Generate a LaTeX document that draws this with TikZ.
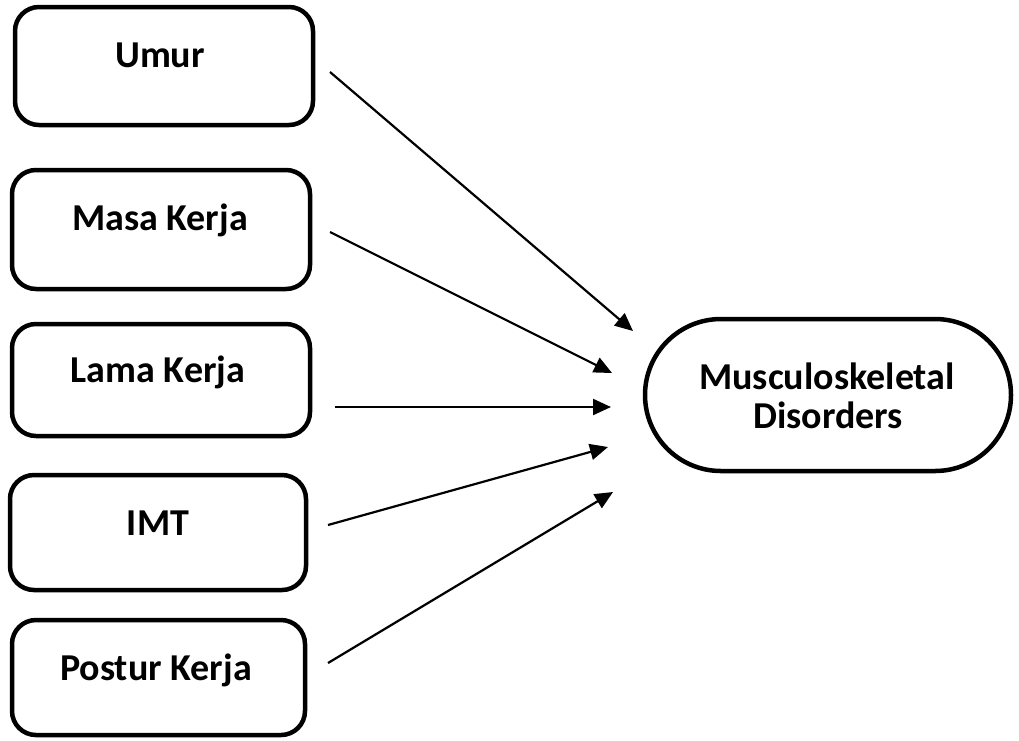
\documentclass[tikz,border=0pt]{standalone}
\usepackage{fontspec}
\setmainfont{Carlito}
\usetikzlibrary{arrows.meta}
\tikzset{
  boxshape/.style={draw, line width=4.5pt, rounded corners=24pt, inner sep=0pt},
  txt/.style={anchor=base, inner sep=0pt, font=\fontsize{38}{40}\selectfont\bfseries},
  arr/.style={line width=2.2pt, -{Triangle[length=18pt,width=16pt]}}
}
\begin{document}
\begin{tikzpicture}[x=1pt,y=-1pt]
\useasboundingbox (0,0) rectangle (1019,740);
% boxes
\node[boxshape, minimum width=298pt, minimum height=118pt] (b1) at (164,66) {};
\node[boxshape, minimum width=298pt, minimum height=119pt] (b2) at (161,229.5) {};
\node[boxshape, minimum width=298pt, minimum height=112pt] (b3) at (161,380) {};
\node[boxshape, minimum width=296pt, minimum height=115pt] (b4) at (158,532.5) {};
\node[boxshape, minimum width=293pt, minimum height=115pt] (b5) at (158.5,677.5) {};
% outcome
\node[draw, line width=4.5pt, rounded corners=76pt, inner sep=0pt, minimum width=366pt, minimum height=152pt] (out) at (828,395) {};
% texts
\node[txt] (t1) at (160,67) {Umur};
\node[txt] (t2) at (160,230) {Masa Kerja};
\node[txt] (t3) at (158,382) {Lama Kerja};
\node[txt] (t4) at (158,535) {IMT};
\node[txt] (t5) at (156,680) {Postur Kerja};
\node[txt] (m1) at (827,389) {Musculoskeletal};
\node[txt] (m2) at (828,428) {Disorders};
% arrow end points
\coordinate (s1) at (330,72);
\coordinate (e1) at (633,331);
\coordinate (s2) at (330,232);
\coordinate (e2) at (612,373);
\coordinate (s3) at (335,407);
\coordinate (e3) at (611,407);
\coordinate (s4) at (328,525);
\coordinate (e4) at (608,447);
\coordinate (s5) at (328,663);
\coordinate (e5) at (613,492);
\draw[arr] (s1) -- (e1);
\draw[arr] (s2) -- (e2);
\draw[arr] (s3) -- (e3);
\draw[arr] (s4) -- (e4);
\draw[arr] (s5) -- (e5);
\end{tikzpicture}
\end{document}
